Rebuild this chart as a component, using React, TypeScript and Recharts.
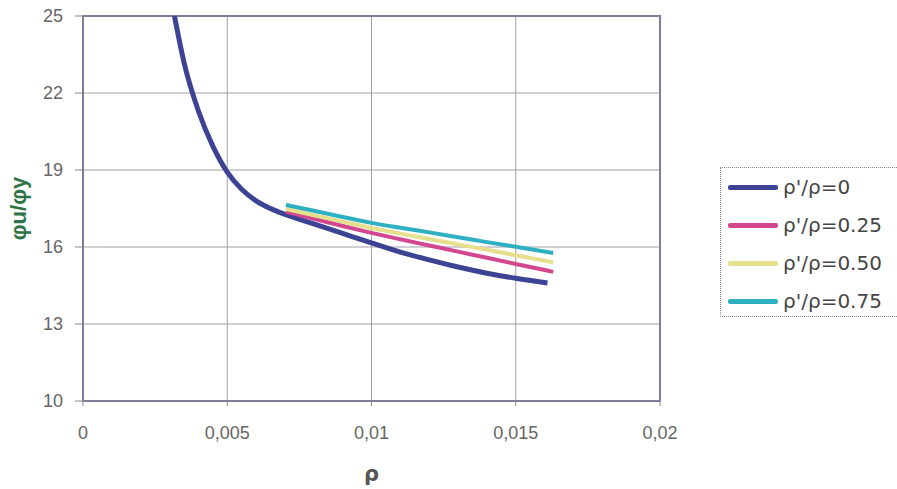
import { CartesianGrid, Legend, Line, LineChart, ReferenceArea, XAxis, YAxis } from 'recharts'

// ρ values and φu/φy, one list per curve
const rhoMain = [0.00317, 0.0035, 0.004, 0.0045, 0.005, 0.0055, 0.006, 0.0065, 0.007, 0.008, 0.009, 0.01, 0.011, 0.012, 0.013, 0.014, 0.015, 0.0161]
const ratio0 = [25, 23.2, 21.3, 19.93, 18.92, 18.25, 17.8, 17.5, 17.27, 16.9, 16.53, 16.16, 15.8, 15.5, 15.22, 14.98, 14.78, 14.6]

const rhoShort = [0.00703, 0.008, 0.009, 0.01, 0.011, 0.012, 0.013, 0.014, 0.015, 0.0163]
const ratio025 = [17.38, 17.1, 16.82, 16.55, 16.3, 16.06, 15.82, 15.58, 15.34, 15.03]
const ratio050 = [17.48, 17.24, 16.99, 16.74, 16.52, 16.31, 16.1, 15.89, 15.68, 15.4]
const ratio075 = [17.64, 17.41, 17.17, 16.94, 16.75, 16.57, 16.38, 16.19, 16.01, 15.77]

const xTicks = [0, 0.005, 0.01, 0.015, 0.02]
const yTicks = [10, 13, 16, 19, 22, 25]

const toPoints = (xs: number[], ys: number[]) => xs.map((x, i) => ({ x, y: ys[i] }))

const series = [
    { name: "ρ'/ρ=0", color: '#3d4394', width: 5, data: toPoints(rhoMain, ratio0) },
    { name: "ρ'/ρ=0.25", color: '#d2478f', width: 4, data: toPoints(rhoShort, ratio025) },
    { name: "ρ'/ρ=0.50", color: '#e6df8c', width: 4, data: toPoints(rhoShort, ratio050) },
    { name: "ρ'/ρ=0.75", color: '#2fb0c2', width: 4, data: toPoints(rhoShort, ratio075) },
]

const tickStyle = { fontSize: 18, fill: '#666', fontFamily: '"Liberation Sans", Arial, sans-serif' }

const renderLegend = (props: any) => (
    <div style={{ paddingTop: 0, paddingLeft: 7 }}>
        {(props.payload || []).map((entry: any) => (
            <div key={entry.value} style={{ display: 'flex', alignItems: 'center', height: 38 }}>
                <span style={{ display: 'inline-block', width: 50, height: 5, borderRadius: 2, background: entry.color, marginRight: 5 }} />
                <span style={{ fontSize: 20, color: '#454545', fontFamily: '"DejaVu Sans", sans-serif' }}>{entry.value}</span>
            </div>
        ))}
    </div>
)

const App = () => {
    return (
        <div style={{ position: 'absolute', left: 0, top: 0, width: 897, height: 489, background: '#fff' }}>
            <LineChart width={897} height={489} margin={{ top: 16, right: 237, left: 0, bottom: 8 }}>
                <CartesianGrid stroke="#a0a0a8" strokeWidth={1} />
                <ReferenceArea x1={0} x2={0.02} y1={10} y2={25} fill="none" stroke="#7d7d99" strokeWidth={2} />
                <XAxis
                    dataKey="x"
                    type="number"
                    domain={[0, 0.02]}
                    ticks={xTicks}
                    tickFormatter={(v) => String(v).replace('.', ',')}
                    tick={tickStyle}
                    tickSize={5}
                    tickMargin={20}
                    axisLine={{ stroke: '#7d7d99', strokeWidth: 2 }}
                    tickLine={{ stroke: '#888' }}
                    height={80}
                    label={{ value: 'ρ', position: 'insideBottom', offset: 0, style: { fontSize: 21, fontWeight: 'bold', fill: '#555', fontFamily: '"DejaVu Sans", sans-serif' } }}
                />
                <YAxis
                    type="number"
                    domain={[10, 25]}
                    ticks={yTicks}
                    tick={tickStyle}
                    tickSize={8}
                    tickMargin={12}
                    axisLine={{ stroke: '#7d7d99', strokeWidth: 2 }}
                    tickLine={{ stroke: '#888' }}
                    width={83}
                    label={{ value: 'φu/φy', angle: -90, position: 'insideLeft', offset: 18, style: { textAnchor: 'middle', fontSize: 22, fontWeight: 'bold', fill: '#2f7448', fontFamily: '"Liberation Sans", Arial, sans-serif' } }}
                />
                <Legend
                    layout="vertical"
                    align="center"
                    verticalAlign="middle"
                    content={renderLegend}
                    wrapperStyle={{ left: 720, top: 167, width: 177, height: 150, border: '1px dotted #888', borderRight: 'none', boxSizing: 'border-box', background: '#fff' }}
                />
                {series.map((s) => (
                    <Line
                        key={s.name}
                        data={s.data}
                        dataKey="y"
                        name={s.name}
                        type="monotone"
                        stroke={s.color}
                        strokeWidth={s.width}
                        dot={false}
                        activeDot={false}
                        isAnimationActive={false}
                    />
                ))}
            </LineChart>
        </div>
    )
}

export default App
